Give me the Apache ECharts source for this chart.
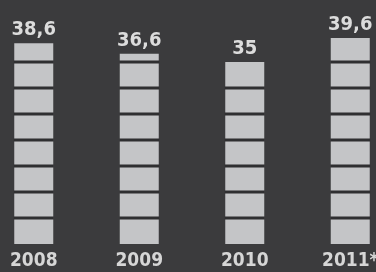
<!DOCTYPE html>
<html><head><meta charset="utf-8">
<script src="https://cdn.jsdelivr.net/npm/echarts@6/dist/echarts.min.js"></script>
<style>html,body{margin:0;padding:0;background:#3b3b3d}#c{width:376px;height:272px}</style>
</head><body><div id="c"></div>
<script>
var categories = ['2008', '2009', '2010', '2011*'];
var values = [38.6, 36.6, 35, 39.6];
var valueLabels = ['38,6', '36,6', '35', '39,6'];
var segmentStep = 5;

var chart = echarts.init(document.getElementById('c'));
var gapData = [];
values.forEach(function (v, i) {
  for (var b = segmentStep; b < v; b += segmentStep) gapData.push([i, b]);
});
chart.setOption({
  backgroundColor: '#3b3b3d',
  animation: false,
  grid: { left: -19, width: 422, top: 36, bottom: 28, outerBoundsMode: 'none', containLabel: false },
  xAxis: {
    type: 'category', data: categories,
    axisLine: { show: false }, axisTick: { show: false },
    axisLabel: { color: '#d6d6d6', fontFamily: 'DejaVu Sans Condensed', fontWeight: 'bold', fontSize: 19, margin: 8 }
  },
  yAxis: { type: 'value', min: 0, max: 40, show: false, splitLine: { show: false } },
  series: [
    {
      type: 'bar', data: values, barWidth: 39,
      itemStyle: { color: '#c4c5c7' },
      label: {
        show: true, position: 'top', distance: 3,
        formatter: function (p) { return valueLabels[p.dataIndex]; },
        color: '#dcdcdc', fontFamily: 'DejaVu Sans Condensed', fontWeight: 'bold', fontSize: 20
      }
    },
    {
      type: 'custom', data: gapData, z: 5,
      renderItem: function (params, api) {
        var p = api.coord([api.value(0), api.value(1)]);
        var w = 40;
        return { type: 'rect', shape: { x: p[0] - w / 2, y: p[1] - 1.5, width: w, height: 3 }, style: { fill: '#2f2f31' } };
      }
    }
  ]
});
</script></body></html>
